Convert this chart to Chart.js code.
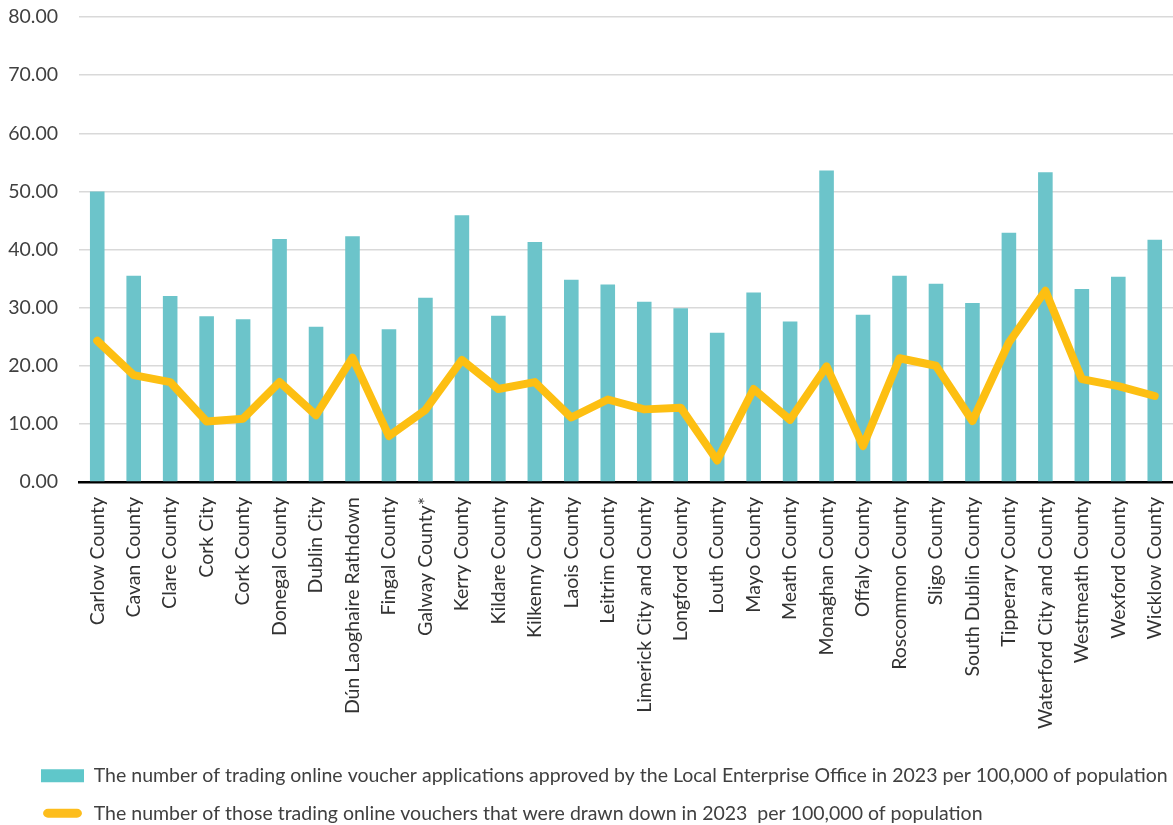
<!DOCTYPE html>
<html>
<head>
<meta charset="utf-8">
<script src="https://cdn.jsdelivr.net/npm/chart.js@4.4.0/dist/chart.umd.min.js"></script>
<style>
  html, body { margin: 0; padding: 0; background: #ffffff; }
  #wrap { width: 1173px; height: 825px; position: relative; }
</style>
</head>
<body>
<div id="wrap"><canvas id="c" width="1173" height="825"></canvas></div>
<script>
const categories = [
  "Carlow County", "Cavan County", "Clare County", "Cork City", "Cork County",
  "Donegal County", "Dublin City", "Dún Laoghaire Rathdown", "Fingal County", "Galway County*",
  "Kerry County", "Kildare County", "Kilkenny County", "Laois County", "Leitrim County",
  "Limerick City and County", "Longford County", "Louth County", "Mayo County", "Meath County",
  "Monaghan County", "Offaly County", "Roscommon County", "Sligo County", "South Dublin County",
  "Tipperary County", "Waterford City and County", "Westmeath County", "Wexford County", "Wicklow County"
];
const approvedPer100k = [
  50.0, 35.5, 32.0, 28.5, 28.0,
  41.8, 26.7, 42.3, 26.3, 31.7,
  45.9, 28.6, 41.3, 34.8, 34.0,
  31.0, 29.9, 25.7, 32.6, 27.6,
  53.6, 28.8, 35.5, 34.1, 30.8,
  42.9, 53.3, 33.2, 35.3, 41.7
];
const drawnDownPer100k = [
  24.3, 18.4, 17.2, 10.4, 10.9,
  17.2, 11.5, 21.4, 7.9, 12.4,
  21.0, 16.0, 17.2, 11.1, 14.2,
  12.5, 12.8, 3.7, 16.0, 10.7,
  19.9, 6.2, 21.3, 20.0, 10.5,
  24.0, 32.9, 17.7, 16.5, 14.8
];
const seriesNames = [
  "The number of trading online voucher applications approved by the Local Enterprise Office in 2023 per 100,000 of population",
  "The number of those trading online vouchers that were drawn down in 2023  per 100,000 of population"
];
const yTicks = { min: 0, max: 80, step: 10 };

const FONT = "Lato, 'Open Sans', sans-serif";

const legendShift = {
  id: 'legendShift',
  afterLayout(chart) {
    if (chart.legend) { chart.legend.left += 23; chart.legend.top += 4; }
  }
};

new Chart(document.getElementById('c'), {
  data: {
    labels: categories,
    datasets: [
      {
        type: 'line',
        label: seriesNames[1],
        data: drawnDownPer100k,
        borderColor: '#FDBF12',
        backgroundColor: '#FDBD1C',
        borderWidth: 8,
        pointRadius: 0,
        borderCapStyle: 'round',
        borderJoinStyle: 'round',
        tension: 0,
        order: 0
      },
      {
        type: 'bar',
        label: seriesNames[0],
        data: approvedPer100k,
        backgroundColor: '#6CC4CA',
        borderWidth: 0,
        barPercentage: 0.4,
        categoryPercentage: 1.0,
        order: 1
      }
    ]
  },
  options: {
    responsive: false,
    animation: false,
    layout: { padding: { top: 17, right: 0, left: 0, bottom: -4 } },
    scales: {
      x: {
        grid: { display: false, drawTicks: false },
        border: { display: true, color: '#000000', width: 2.5 },
        afterFit(scale) { scale.paddingLeft = 0; scale.paddingRight = 0; },
        ticks: {
          minRotation: 90, maxRotation: 90, autoSkip: false,
          color: '#333333', padding: 15,
          font: { family: FONT, size: 19.5 }
        }
      },
      y: {
        min: yTicks.min, max: yTicks.max,
        grid: { color: '#D9D9D9', lineWidth: 1.5, drawTicks: false },
        border: { display: false },
        afterFit(scale) { scale.width = 79; scale.paddingTop = 0; scale.paddingBottom = 0; },
        ticks: {
          stepSize: yTicks.step,
          padding: 21,
          color: '#404040',
          font: { family: FONT, size: 19.5 },
          callback: v => Number(v).toFixed(2)
        }
      }
    },
    plugins: {
      legend: {
        position: 'bottom',
        align: 'start',
        reverse: true,
        labels: {
          boxWidth: 43,
          boxHeight: 13,
          padding: 18,
          color: '#404040',
          font: { family: FONT, size: 19.5 },
          useBorderRadius: true,
          generateLabels(chart) {
            const items = Chart.defaults.plugins.legend.labels.generateLabels(chart);
            items.forEach(it => {
              const ds = chart.data.datasets[it.datasetIndex];
              if (ds.type === 'line') {
                it.fillStyle = '#FDBD1C';
                it.strokeStyle = '#ffffff';
                it.lineWidth = 4;
                it.borderRadius = 7;
              } else {
                it.fillStyle = '#5FC7CA';
                it.lineWidth = 0;
                it.borderRadius = 0;
              }
            });
            return items;
          }
        }
      },
      tooltip: { enabled: false }
    }
  },
  plugins: [legendShift]
});
</script>
</body>
</html>
